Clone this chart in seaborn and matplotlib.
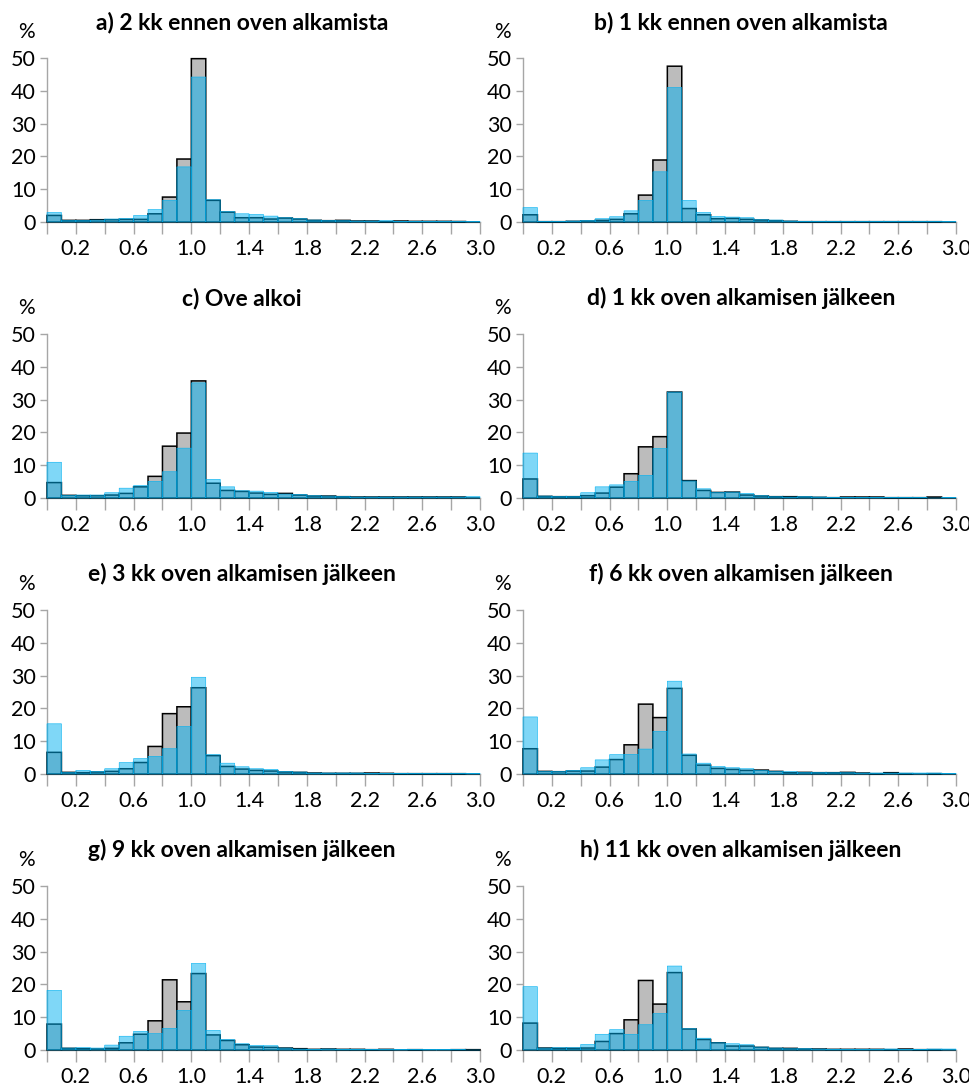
import numpy as np
import matplotlib
matplotlib.use("Agg")
import matplotlib.pyplot as plt
from matplotlib.ticker import FixedLocator, FixedFormatter
import seaborn as sns

# ---------------- data ----------------
BIN_EDGES = [0.0, 0.1, 0.2, 0.3, 0.4, 0.5, 0.6, 0.7, 0.8, 0.9, 1.0,
             1.1, 1.2, 1.3, 1.4, 1.5, 1.6, 1.7, 1.8, 1.9, 2.0,
             2.1, 2.2, 2.3, 2.4, 2.5, 2.6, 2.7, 2.8, 2.9, 3.0]

XTICKS = [0.0, 0.2, 0.4, 0.6, 0.8, 1.0, 1.2, 1.4, 1.6, 1.8, 2.0, 2.2, 2.4, 2.6, 2.8, 3.0]
XTICK_LABELS = ["", "0.2", "", "0.6", "", "1.0", "", "1.4", "", "1.8", "", "2.2", "", "2.6", "", "3.0"]
YTICKS = [0, 10, 20, 30, 40, 50]

TITLES = [
    "a) 2 kk ennen oven alkamista",
    "b) 1 kk ennen oven alkamista",
    "c) Ove alkoi",
    "d) 1 kk oven alkamisen jälkeen",
    "e) 3 kk oven alkamisen jälkeen",
    "f) 6 kk oven alkamisen jälkeen",
    "g) 9 kk oven alkamisen jälkeen",
    "h) 11 kk oven alkamisen jälkeen",
]

GREY_A = [2.0, 0.5, 0.5, 0.7, 0.7, 0.8, 0.8, 2.5, 7.6, 19.2, 49.8, 6.6, 3.0, 1.3, 1.3,
          0.9, 1.2, 0.9, 0.5, 0.4, 0.5, 0.3, 0.3, 0.1, 0.3, 0.2, 0.2, 0.2, 0.15, 0.0]
BLUE_A = [2.9, 0.5, 0.5, 0.6, 0.9, 1.1, 2.0, 3.8, 6.6, 16.8, 44.2, 6.8, 3.2, 2.5, 2.3,
          1.8, 1.3, 1.0, 0.6, 0.5, 0.4, 0.3, 0.3, 0.4, 0.2, 0.2, 0.2, 0.2, 0.1, 0.1]

GREY_B = [2.2, 0.1, 0.1, 0.2, 0.3, 0.5, 0.8, 2.5, 8.2, 18.9, 47.5, 4.1, 2.2, 1.0, 1.1,
          0.8, 0.6, 0.4, 0.2, 0.1, 0.1, 0.1, 0.1, 0.1, 0.1, 0.1, 0.1, 0.1, 0.1, 0.0]
BLUE_B = [4.4, 0.1, 0.1, 0.3, 0.5, 1.0, 1.6, 3.4, 6.6, 15.3, 41.0, 6.6, 2.9, 1.7, 1.5,
          1.3, 0.7, 0.6, 0.3, 0.1, 0.1, 0.1, 0.1, 0.1, 0.1, 0.1, 0.1, 0.1, 0.1, 0.1]

GREY_C = [4.7, 0.8, 0.7, 0.7, 0.9, 1.4, 3.4, 6.6, 15.8, 19.8, 35.7, 4.5, 2.3, 2.0, 1.5,
          1.1, 1.4, 0.9, 0.6, 0.6, 0.4, 0.3, 0.3, 0.3, 0.3, 0.3, 0.3, 0.3, 0.3, 0.0]
BLUE_C = [10.9, 0.8, 0.9, 0.9, 1.6, 3.0, 3.8, 5.1, 8.0, 15.2, 35.1, 5.7, 3.4, 2.2, 2.1,
          1.7, 1.2, 1.1, 0.7, 0.6, 0.5, 0.3, 0.3, 0.3, 0.3, 0.3, 0.3, 0.3, 0.3, 0.4]

GREY_D = [5.8, 0.5, 0.4, 0.4, 0.7, 1.5, 3.3, 7.4, 15.6, 18.7, 32.3, 5.3, 2.3, 1.7, 1.8,
          0.9, 0.6, 0.4, 0.4, 0.3, 0.2, 0.1, 0.3, 0.3, 0.3, 0.1, 0.1, 0.1, 0.3, 0.0]
BLUE_D = [13.7, 0.6, 0.5, 0.5, 1.6, 3.4, 4.0, 5.1, 6.9, 15.1, 32.3, 5.2, 2.8, 1.7, 1.8,
          1.4, 0.7, 0.4, 0.3, 0.4, 0.3, 0.1, 0.2, 0.2, 0.2, 0.1, 0.1, 0.1, 0.0, 0.2]

GREY_E = [6.6, 0.5, 0.4, 0.6, 0.8, 1.6, 3.5, 8.4, 18.4, 20.5, 26.3, 5.6, 2.3, 1.5, 1.1,
          0.9, 0.6, 0.5, 0.3, 0.2, 0.2, 0.2, 0.3, 0.2, 0.1, 0.1, 0.1, 0.1, 0.1, 0.0]
BLUE_E = [15.3, 0.5, 1.1, 0.8, 1.6, 3.5, 4.7, 5.4, 7.7, 14.5, 29.5, 5.9, 3.3, 2.2, 1.6,
          1.4, 0.8, 0.6, 0.3, 0.3, 0.3, 0.3, 0.2, 0.2, 0.2, 0.1, 0.1, 0.1, 0.1, 0.2]

GREY_F = [7.7, 0.8, 0.7, 0.9, 0.9, 2.1, 4.4, 8.9, 21.3, 17.2, 26.1, 5.7, 2.7, 1.7, 1.4,
          1.1, 1.2, 0.8, 0.4, 0.5, 0.4, 0.4, 0.5, 0.3, 0.1, 0.4, 0.1, 0.0, 0.1, 0.0]
BLUE_F = [17.4, 0.8, 0.8, 1.1, 1.9, 4.3, 5.9, 6.0, 7.6, 13.0, 28.3, 6.1, 3.3, 2.3, 1.9,
          1.6, 1.1, 0.8, 0.7, 0.5, 0.5, 0.4, 0.4, 0.3, 0.3, 0.3, 0.3, 0.3, 0.3, 0.2]

GREY_G = [7.9, 0.5, 0.4, 0.3, 0.5, 2.2, 4.8, 8.9, 21.4, 14.7, 23.3, 4.6, 2.9, 1.6, 0.9,
          0.8, 0.6, 0.4, 0.2, 0.3, 0.2, 0.2, 0.1, 0.2, 0.0, 0.1, 0.0, 0.0, 0.1, 0.1]
BLUE_G = [18.2, 0.6, 0.7, 0.6, 1.5, 4.2, 5.7, 5.0, 6.6, 12.1, 26.4, 6.0, 3.2, 1.9, 1.4,
          1.3, 0.6, 0.3, 0.2, 0.3, 0.2, 0.2, 0.1, 0.1, 0.1, 0.1, 0.1, 0.1, 0.1, 0.0]

GREY_H = [8.2, 0.6, 0.5, 0.5, 0.6, 2.6, 5.0, 9.2, 21.2, 14.0, 23.6, 6.4, 3.2, 2.2, 1.2,
          1.2, 0.8, 0.5, 0.5, 0.3, 0.3, 0.2, 0.2, 0.2, 0.2, 0.1, 0.3, 0.1, 0.1, 0.0]
BLUE_H = [19.3, 0.6, 0.7, 0.7, 1.7, 4.8, 6.2, 4.8, 7.7, 11.1, 25.6, 6.5, 3.6, 2.2, 1.9,
          1.6, 0.9, 0.6, 0.4, 0.4, 0.3, 0.2, 0.2, 0.2, 0.2, 0.3, 0.2, 0.2, 0.3, 0.3]

GREY = [GREY_A, GREY_B, GREY_C, GREY_D, GREY_E, GREY_F, GREY_G, GREY_H]
BLUE = [BLUE_A, BLUE_B, BLUE_C, BLUE_D, BLUE_E, BLUE_F, BLUE_G, BLUE_H]

# ---------------- style ----------------
sns.set_style("ticks")
plt.rcParams["font.family"] = ["Lato", "DejaVu Sans"]

GREY_FILL = "#bcbcbc"
BLUE_FILL = "#00b0f0"
AXIS_GREY = "#a6a6a6"
TEXT = "#000000"

W, H = 969, 1087
fig = plt.figure(figsize=(W / 100, H / 100), dpi=100)
fig.patch.set_facecolor("white")

col_x = [47, 523]
row_top = [58, 334, 610, 886]
ax_w, ax_h = 433, 164
title_cx = [242, 741]

centers = [(a + b) / 2 for a, b in zip(BIN_EDGES[:-1], BIN_EDGES[1:])]

for i, (title, g, b) in enumerate(zip(TITLES, GREY, BLUE)):
    r, c = divmod(i, 2)
    ax = fig.add_axes([col_x[c] / W, 1 - (row_top[r] + ax_h) / H, ax_w / W, ax_h / H])
    ax.set_facecolor("white")

    sns.histplot(x=centers, weights=g, bins=BIN_EDGES, stat="count", ax=ax,
                 color=GREY_FILL, edgecolor="black", linewidth=1.1, alpha=1.0,
                 zorder=3)
    sns.histplot(x=centers, weights=b, bins=BIN_EDGES, stat="count", ax=ax,
                 color=BLUE_FILL, edgecolor=BLUE_FILL, linewidth=0.4, alpha=0.5,
                 zorder=4)
    for p in ax.patches:
        p.set_clip_on(False)
        p.set_snap(False)

    ax.set_xlim(0, 3.0)
    ax.set_ylim(0, 50)
    ax.set_xlabel("")
    ax.set_ylabel("")

    ax.xaxis.set_major_locator(FixedLocator(XTICKS))
    ax.xaxis.set_major_formatter(FixedFormatter(XTICK_LABELS))
    ax.yaxis.set_major_locator(FixedLocator(YTICKS))

    for side in ("top", "right"):
        ax.spines[side].set_visible(False)
    for side in ("left", "bottom"):
        ax.spines[side].set_color(AXIS_GREY)
        ax.spines[side].set_linewidth(1.0)
        ax.spines[side].set_zorder(1)

    ax.tick_params(axis="x", direction="out", length=8.5, width=1.0, color=AXIS_GREY,
                   pad=4, labelsize=15.5, labelcolor=TEXT)
    ax.tick_params(axis="y", direction="out", length=5, width=1.0, color=AXIS_GREY,
                   pad=3, labelsize=15.5, labelcolor=TEXT)

    # title
    fig.text(title_cx[c] / W, 1 - (row_top[r] - 29) / H, title, ha="center",
             va="baseline", fontsize=16.5, fontweight="bold", color=TEXT)
    # % label
    fig.text((col_x[c] - 21) / W, 1 - (row_top[r] - 26) / H, "%", ha="center",
             va="center", fontsize=15, color=TEXT)

fig.savefig("out.png", dpi=100, facecolor="white")
